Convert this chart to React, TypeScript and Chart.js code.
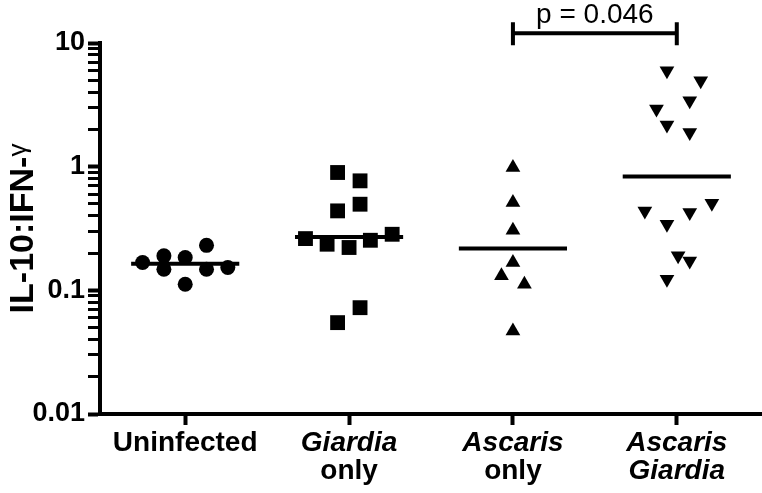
import React, { useEffect, useRef } from 'react';
import { Chart, registerables } from 'chart.js';

Chart.register(...registerables);

const FONT = "'Liberation Sans', Arial, Helvetica, sans-serif";

// Categories (two-line labels, italic flags per line)
const categoryIndex = [0, 1, 2, 3];
const labelLine1 = ['Uninfected', 'Giardia', 'Ascaris', 'Ascaris'];
const labelLine2 = ['', 'only', 'only', 'Giardia'];
const line1Italic = [false, true, true, true];
const line2Italic = [false, false, false, true];

// Y axis ticks
const yMajorTicks = [0.01, 0.1, 1, 10];
const yMajorLabels = ['0.01', '0.1', '1', '10'];
const yMinorMultipliers = [2, 3, 4, 5, 6, 7, 8, 9];

// Series values (IL-10:IFN-γ) and horizontal scatter offsets within each column
const uninfectedValues = [0.168, 0.19, 0.148, 0.184, 0.112, 0.231, 0.148, 0.153];
const uninfectedOffsets = [-0.26, -0.13, -0.13, 0, 0, 0.13, 0.13, 0.26];

const giardiaValues = [0.897, 0.768, 0.439, 0.497, 0.262, 0.236, 0.222, 0.254, 0.284, 0.0724, 0.0548];
const giardiaOffsets = [-0.07, 0.067, -0.07, 0.067, -0.266, -0.134, 0, 0.13, 0.263, 0.067, -0.07];

const ascarisValues = [0.986, 0.513, 0.306, 0.168, 0.131, 0.112, 0.0468];
const ascarisOffsets = [0, 0, 0, 0, -0.07, 0.07, 0];

const bothValues = [5.97, 4.95, 3.41, 2.92, 2.17, 1.89, 0.439, 0.342, 0.426, 0.506, 0.19, 0.173, 0.123];
const bothOffsets = [-0.06, 0.146, 0.079, -0.124, -0.06, 0.079, -0.195, -0.06, 0.079, 0.214, 0.008, 0.079, -0.06];

const medians = [0.164, 0.27, 0.218, 0.833];
const medianHalfWidth = 0.33;

// Significance bracket
const bracketFrom = 2;
const bracketTo = 3;
const bracketLevel = 12;
const bracketText = 'p = 0.046';

export default function App() {
  const ref = useRef<HTMLCanvasElement>(null);

  useEffect(() => {
    if (!ref.current) return;

    const toPoints = (idx: number, vals: number[], offs: number[]) =>
      vals.map((v, i) => ({ x: idx + offs[i], y: v }));

    const pointSets = [
      { vals: uninfectedValues, offs: uninfectedOffsets, style: 'circle', radius: 7.5, rot: 0 },
      { vals: giardiaValues, offs: giardiaOffsets, style: 'rect', radius: 10.5, rot: 0 },
      { vals: ascarisValues, offs: ascarisOffsets, style: 'triangle', radius: 8.5, rot: 0 },
      { vals: bothValues, offs: bothOffsets, style: 'triangle', radius: 8.5, rot: 180 },
    ];

    const datasets: any[] = [];
    pointSets.forEach((s, i) => {
      datasets.push({
        data: toPoints(categoryIndex[i], s.vals, s.offs),
        pointStyle: s.style,
        pointRadius: s.radius,
        pointRotation: s.rot,
        backgroundColor: '#000',
        borderColor: '#000',
        borderWidth: 0,
        showLine: false,
      });
    });
    medians.forEach((m, i) => {
      datasets.push({
        data: [
          { x: categoryIndex[i] - medianHalfWidth, y: m },
          { x: categoryIndex[i] + medianHalfWidth, y: m },
        ],
        showLine: true,
        borderColor: '#000',
        borderWidth: 4,
        pointRadius: 0,
        borderCapStyle: 'butt',
      });
    });

    const yTickValues: number[] = [];
    yMajorTicks.forEach((m, i) => {
      yTickValues.push(m);
      if (i < yMajorTicks.length - 1) yMinorMultipliers.forEach((k) => yTickValues.push(+(m * k).toPrecision(3)));
    });
    const isMajor = (v: number) => yMajorTicks.some((m) => Math.abs(v - m) / m < 1e-6);

    const annotations = {
      id: 'annotations',
      afterDraw(chart: any) {
        const { ctx, scales } = chart;
        const x = scales.x;
        const y = scales.y;
        ctx.save();
        ctx.fillStyle = '#000';
        ctx.strokeStyle = '#000';
        ctx.textAlign = 'center';
        ctx.textBaseline = 'middle';
        categoryIndex.forEach((c, i) => {
          const px = x.getPixelForValue(c);
          ctx.font = `${line1Italic[i] ? 'italic ' : ''}bold 28px ${FONT}`;
          ctx.fillText(labelLine1[i], px, y.bottom + 29);
          if (labelLine2[i]) {
            ctx.font = `${line2Italic[i] ? 'italic ' : ''}bold 28px ${FONT}`;
            ctx.fillText(labelLine2[i], px, y.bottom + 57);
          }
        });

        // Y axis title
        ctx.save();
        ctx.translate(24, (y.top + y.bottom) / 2);
        ctx.rotate(-Math.PI / 2);
        const main = 'IL-10:IFN-';
        const greek = 'γ';
        ctx.font = `bold 34px ${FONT}`;
        const w1 = ctx.measureText(main).width;
        ctx.font = `26px ${FONT}`;
        const w2 = ctx.measureText(greek).width;
        const start = -(w1 + w2) / 2;
        ctx.textAlign = 'left';
        ctx.textBaseline = 'middle';
        ctx.font = `bold 34px ${FONT}`;
        ctx.fillText(main, start, 0);
        ctx.font = `26px ${FONT}`;
        ctx.fillText(greek, start + w1, -5);
        ctx.restore();

        // Bracket
        const bx1 = x.getPixelForValue(bracketFrom);
        const bx2 = x.getPixelForValue(bracketTo);
        const by = y.getPixelForValue(bracketLevel);
        ctx.lineWidth = 4;
        ctx.lineCap = 'butt';
        ctx.beginPath();
        ctx.moveTo(bx1, by);
        ctx.lineTo(bx2, by);
        ctx.moveTo(bx1, by - 11);
        ctx.lineTo(bx1, by + 12);
        ctx.moveTo(bx2, by - 11);
        ctx.lineTo(bx2, by + 12);
        ctx.stroke();
        ctx.font = `28px ${FONT}`;
        ctx.textAlign = 'center';
        ctx.textBaseline = 'alphabetic';
        ctx.fillText(bracketText, (bx1 + bx2) / 2, by - 10);
        ctx.restore();
      },
    };

    const chart = new Chart(ref.current, {
      type: 'scatter',
      data: { datasets },
      options: {
        animation: false,
        responsive: true,
        maintainAspectRatio: false,
        layout: { autoPadding: false, padding: { top: 43, right: 0, left: 0, bottom: 0 } },
        plugins: { legend: { display: false }, tooltip: { enabled: false } },
        scales: {
          x: {
            type: 'linear',
            min: -0.52,
            max: 3.52,
            afterBuildTicks: (s: any) => {
              s.ticks = categoryIndex.map((v) => ({ value: v }));
            },
            afterFit: (s: any) => {
              s.height = 79;
            },
            ticks: { display: false },
            grid: { drawOnChartArea: false, drawTicks: true, tickLength: 11, tickWidth: 4, tickColor: '#000' },
            border: { display: true, color: '#000', width: 4 },
          },
          y: {
            type: 'logarithmic',
            min: 0.01,
            max: 10,
            afterBuildTicks: (s: any) => {
              s.ticks = yTickValues.map((v) => ({ value: v }));
            },
            afterFit: (s: any) => {
              s.width = 100;
            },
            ticks: {
              autoSkip: false,
              color: '#000',
              padding: 3,
              font: { family: FONT, size: 27, weight: 'bold' },
              callback: (v: any) => {
                const i = yMajorTicks.findIndex((m) => Math.abs(Number(v) - m) / m < 1e-6);
                return i >= 0 ? yMajorLabels[i] : '';
              },
            },
            grid: {
              drawOnChartArea: false,
              drawTicks: true,
              tickLength: 12,
              tickColor: '#000',
              tickWidth: (c: any) => (c.tick && isMajor(c.tick.value) ? 4 : 3),
            },
            border: { display: true, color: '#000', width: 4 },
          },
        },
      },
      plugins: [annotations],
    });

    return () => chart.destroy();
  }, []);

  return (
    <div style={{ position: 'fixed', left: 0, top: 0, width: 762, height: 493, background: '#fff' }}>
      <canvas ref={ref} />
    </div>
  );
}
